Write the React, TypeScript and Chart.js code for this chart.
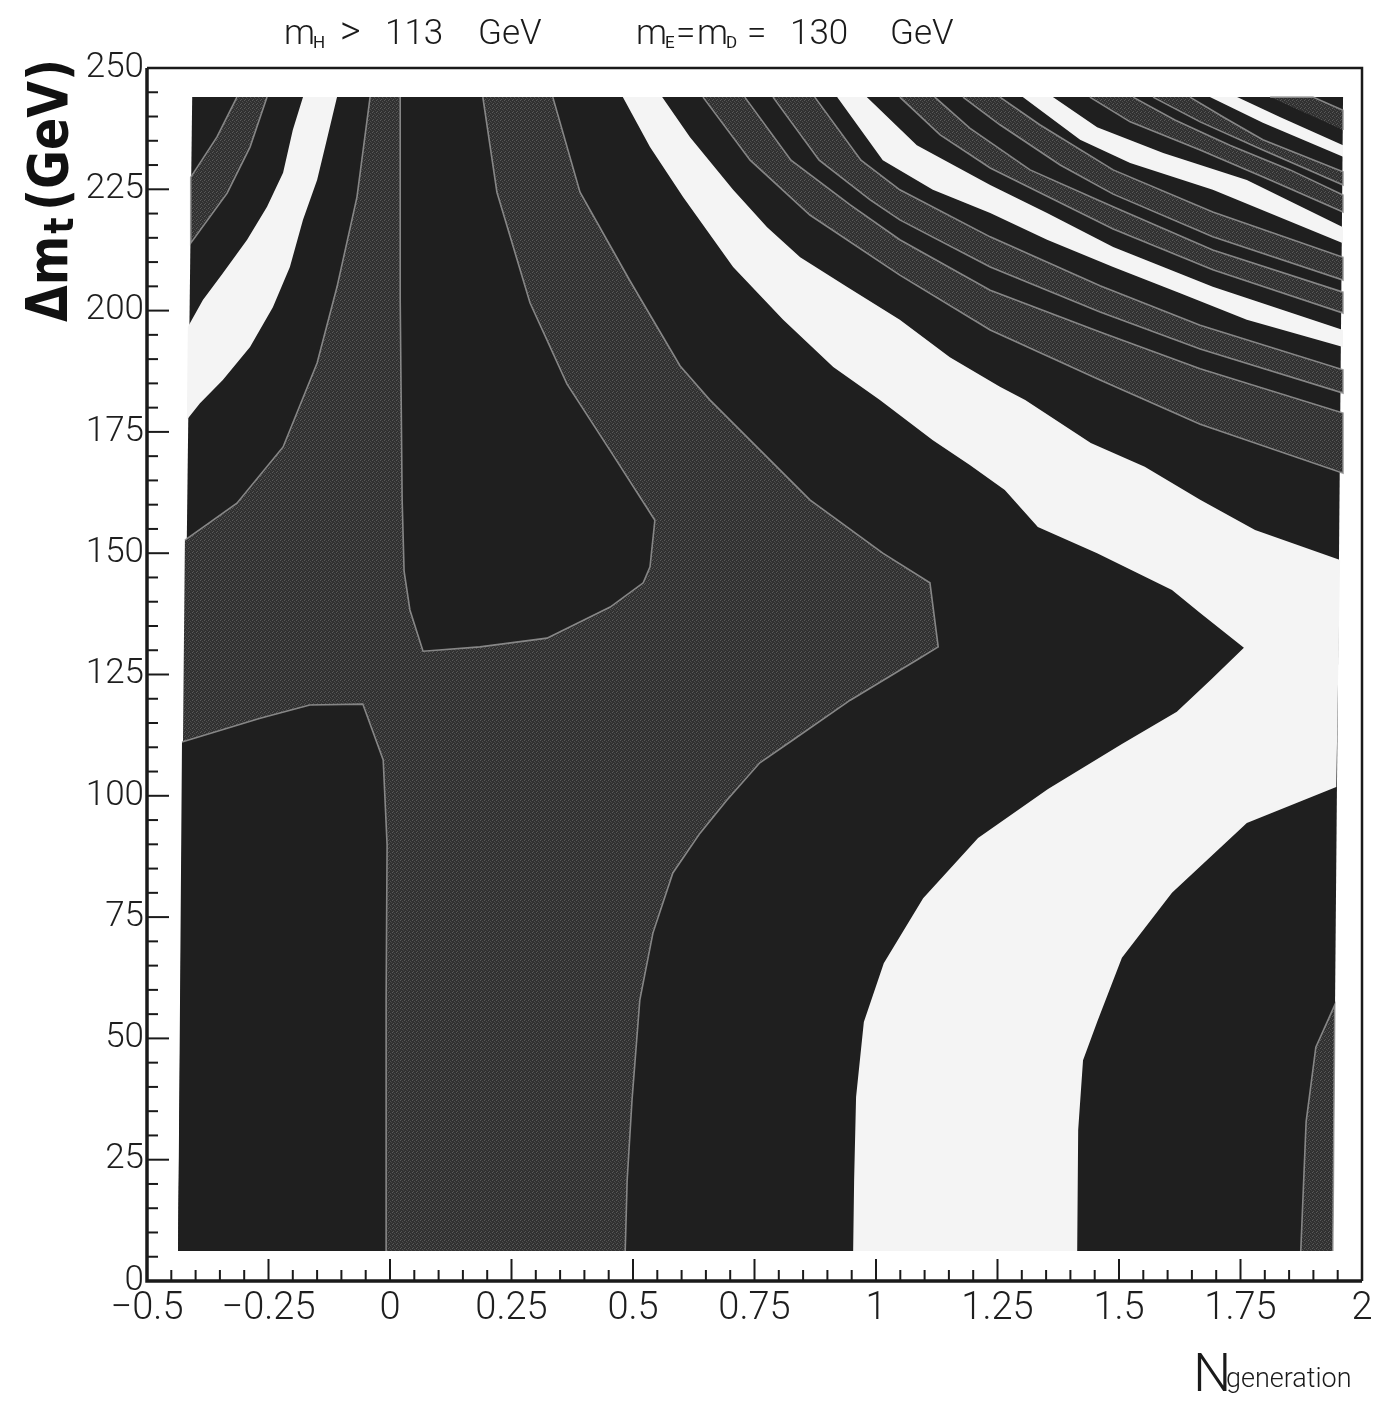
import React, { useEffect, useRef } from 'react';
import { Chart, registerables } from 'chart.js';

Chart.register(...registerables);

type Pt = [number, number];

// ---- axis ticks ----
const xTickValues = [-0.5, -0.25, 0, 0.25, 0.5, 0.75, 1, 1.25, 1.5, 1.75, 2];
const xTickLabels = ['\u22120.5', '\u22120.25', '0', '0.25', '0.5', '0.75', '1', '1.25', '1.5', '1.75', '2'];
const yTickValues = [0, 25, 50, 75, 100, 125, 150, 175, 200, 225, 250];
const yTickLabels = ['0', '25', '50', '75', '100', '125', '150', '175', '200', '225', '250'];

// ---- contour regions (x = N_generation, y = Δm_t in GeV) ----
const fillArea: Pt[] = [[-0.407, 244.0], [1.961, 244.0], [1.940, 6.2], [-0.436, 6.2]];

const grayTopLeft: Pt[] = [
  [-0.315, 244.0], [-0.356, 235.8], [-0.410, 227.5], [-0.410, 213.9],
  [-0.335, 224.2], [-0.288, 233.7], [-0.253, 244.0],
];

const whiteTopLeft: Pt[] = [
  [-0.179, 244.0], [-0.200, 237.2], [-0.220, 228.4], [-0.253, 221.4], [-0.294, 214.6],
  [-0.344, 207.7], [-0.385, 202.2], [-0.416, 196.6],
  [-0.418, 177.5], [-0.391, 180.9], [-0.344, 185.7], [-0.288, 192.5], [-0.241, 200.7],
  [-0.206, 209.0], [-0.179, 218.7], [-0.150, 226.9], [-0.130, 235.2], [-0.109, 244.0],
];

const grayRegionRight: Pt[] = [
  [0.335, 244.0], [0.391, 224.4], [0.494, 206.1], [0.597, 188.6], [0.658, 181.6],
  [0.761, 171.3], [0.864, 161.0], [1.014, 150.0], [1.111, 143.9], [1.128, 130.7],
  [1.084, 128.0], [0.947, 119.7], [0.829, 111.5], [0.761, 106.8], [0.693, 99.1],
  [0.638, 92.3], [0.582, 84.1], [0.541, 71.7], [0.514, 57.9], [0.498, 37.3],
  [0.488, 20.8], [0.484, 6.2],
];
const grayRegionLeft: Pt[] = [
  [-0.422, 152.7], [-0.315, 160.3], [-0.220, 171.9], [-0.150, 189.2],
  [-0.109, 204.9], [-0.068, 223.4], [-0.041, 244.0],
];
const grayRegionCorner: Pt[] = [[-0.436, 6.2]];

const darkIslandTop: Pt[] = [
  [0.191, 244.0], [0.220, 224.4], [0.288, 201.6], [0.364, 184.9], [0.459, 170.2],
  [0.545, 156.8], [0.535, 147.2], [0.521, 143.9], [0.453, 138.9], [0.323, 132.5],
  [0.185, 130.7], [0.068, 129.8], [0.041, 138.3], [0.029, 146.3], [0.025, 161.0],
  [0.021, 202.2], [0.021, 244.0],
];

const darkIslandLow: Pt[] = [
  [-0.428, 111.1], [-0.267, 116.0], [-0.165, 118.7], [-0.056, 118.9],
  [-0.014, 107.4], [-0.006, 89.9], [-0.008, 57.9], [-0.008, 6.2], [-0.436, 6.2],
];

const whiteBandA: Pt[] = [
  [0.479, 244.0], [0.535, 233.7], [0.603, 223.4], [0.706, 209.0], [0.809, 198.1],
  [0.912, 188.4], [1.008, 181.6], [1.117, 173.3], [1.193, 168.2], [1.265, 163.0],
  [1.333, 155.4], [1.455, 150.0], [1.609, 142.4], [1.667, 137.7], [1.757, 130.5],
  [1.689, 123.9], [1.619, 117.3], [1.506, 110.7], [1.354, 101.4], [1.210, 91.3],
  [1.097, 78.9], [1.016, 65.5], [0.975, 53.4], [0.959, 37.9], [0.955, 20.8], [0.953, 6.2],
  [1.414, 6.2], [1.416, 31.1], [1.426, 45.5], [1.455, 53.4], [1.506, 66.6],
  [1.609, 80.0], [1.763, 94.4], [1.947, 101.8], [1.955, 148.6],
  [1.780, 154.8], [1.667, 161.0], [1.553, 167.8], [1.442, 172.7], [1.307, 181.6],
  [1.255, 184.3], [1.152, 190.4], [1.049, 198.1], [0.940, 204.9], [0.844, 211.0],
  [0.776, 217.2], [0.706, 224.9], [0.617, 235.8], [0.560, 244.0],
];

const grayLowRight: Pt[] = [
  [1.874, 6.2], [1.885, 32.8], [1.905, 48.2], [1.944, 56.9], [1.940, 6.2],
];

const whiteBandB: Pt[] = [
  [0.920, 244.0], [1.014, 231.0], [1.117, 224.9], [1.235, 220.1], [1.352, 214.6],
  [1.488, 209.0], [1.626, 203.6], [1.763, 198.1], [1.961, 192.5],
  [1.961, 196.0], [1.693, 204.9], [1.488, 213.1], [1.352, 220.1], [1.235, 225.9],
  [1.084, 234.1], [0.981, 244.0],
];
const whiteBandC: Pt[] = [
  [1.302, 244.0], [1.420, 235.2], [1.523, 230.4], [1.693, 224.9], [1.961, 213.9],
  [1.961, 217.2], [1.763, 226.9], [1.591, 232.5], [1.455, 237.8], [1.364, 244.0],
];
const whiteBandD: Pt[] = [
  [1.687, 244.0], [1.796, 238.7], [1.961, 231.7],
  [1.961, 234.1], [1.831, 239.9], [1.743, 244.0],
];

const grayAB1: Pt[] = [
  [0.644, 244.0], [0.741, 231.0], [0.864, 219.7], [1.049, 207.3], [1.235, 196.0],
  [1.461, 185.7], [1.667, 176.6], [1.961, 166.5],
  [1.961, 178.9], [1.667, 188.0], [1.461, 195.6], [1.235, 204.2], [1.049, 214.6],
  [0.947, 221.8], [0.825, 231.0], [0.730, 244.0],
];
const grayAB2: Pt[] = [
  [0.788, 244.0], [0.883, 231.0], [0.988, 222.8], [1.049, 218.7], [1.235, 209.0],
  [1.461, 199.7], [1.667, 192.1], [1.961, 183.0],
  [1.961, 187.8], [1.667, 197.0], [1.461, 205.1], [1.235, 215.2], [1.049, 224.9],
  [0.969, 231.0], [0.874, 244.0],
];
const grayBC1: Pt[] = [
  [1.049, 244.0], [1.132, 236.2], [1.235, 229.4], [1.488, 216.8], [1.693, 208.4], [1.961, 199.5],
  [1.961, 203.8], [1.693, 212.5], [1.488, 221.4], [1.317, 229.0], [1.193, 237.6], [1.121, 244.0],
];
const grayBC2: Pt[] = [
  [1.179, 244.0], [1.255, 238.3], [1.379, 230.0], [1.488, 224.0], [1.693, 215.2], [1.961, 206.3],
  [1.961, 211.0], [1.693, 220.3], [1.488, 229.0], [1.337, 238.3], [1.255, 244.0],
];
const grayCD1: Pt[] = [
  [1.440, 244.0], [1.523, 238.9], [1.667, 233.1], [1.811, 226.9], [1.961, 220.3],
  [1.961, 223.8], [1.852, 229.0], [1.728, 234.1], [1.615, 239.3], [1.529, 244.0],
];
const grayCD2: Pt[] = [
  [1.570, 244.0], [1.667, 238.9], [1.796, 233.1], [1.961, 225.9],
  [1.961, 228.6], [1.796, 235.2], [1.718, 239.7], [1.646, 244.0],
];
const grayD: Pt[] = [[1.811, 244.0], [1.899, 244.0], [1.961, 241.3], [1.961, 237.2]];

// ---- styles ----
const DARK = '#1f1f1f';
const WHITE = '#f4f4f4';
const EDGE = 'rgba(150,150,150,0.85)';
const FONT = 'Roboto, "Liberation Sans", "DejaVu Sans", sans-serif';

function makeGrayPattern(): CanvasPattern | string {
  const c = document.createElement('canvas');
  c.width = 4;
  c.height = 4;
  const g = c.getContext('2d');
  if (!g) return '#383838';
  g.fillStyle = '#313131';
  g.fillRect(0, 0, 4, 4);
  g.fillStyle = '#5a5a5a';
  g.fillRect(0, 0, 1, 1);
  g.fillStyle = '#4e4e4e';
  g.fillRect(2, 1, 1, 1);
  g.fillStyle = '#545454';
  g.fillRect(1, 3, 1, 1);
  g.fillStyle = '#464646';
  g.fillRect(3, 2, 1, 1);
  const p = g.createPattern(c, 'repeat');
  return p || '#383838';
}

const decorPlugin = {
  id: 'decor',
  afterDraw(chart: any) {
    const ctx: CanvasRenderingContext2D = chart.ctx;
    const { left, right, top, bottom } = chart.chartArea;
    const xs = chart.scales.x;
    const ys = chart.scales.y;
    ctx.save();
    ctx.strokeStyle = '#1a1a1a';
    // frame
    ctx.lineWidth = 2.5;
    ctx.beginPath();
    ctx.moveTo(left, top);
    ctx.lineTo(right, top);
    ctx.lineTo(right, bottom);
    ctx.stroke();
    ctx.lineWidth = 3.5;
    ctx.beginPath();
    ctx.moveTo(left, top);
    ctx.lineTo(left, bottom);
    ctx.lineTo(right, bottom);
    ctx.stroke();
    // ticks (inward)
    ctx.lineWidth = 2;
    for (let i = 0; i <= 50; i++) {
      const v = -0.5 + i * 0.05;
      const px = xs.getPixelForValue(v);
      const len = i % 5 === 0 ? 22 : 11;
      ctx.beginPath();
      ctx.moveTo(px, bottom);
      ctx.lineTo(px, bottom - len);
      ctx.stroke();
    }
    for (let i = 0; i <= 50; i++) {
      const v = i * 5;
      const py = ys.getPixelForValue(v);
      const len = i % 5 === 0 ? 22 : 11;
      ctx.beginPath();
      ctx.moveTo(left, py);
      ctx.lineTo(left + len, py);
      ctx.stroke();
    }

    // top title
    ctx.fillStyle = '#1a1a1a';
    ctx.textAlign = 'left';
    ctx.textBaseline = 'alphabetic';
    const pieces: { t: string; x: number; sub?: boolean; big?: boolean }[] = [
      { t: 'm', x: 284 }, { t: 'H', x: 313, sub: true }, { t: '>', x: 340, big: true },
      { t: '113', x: 385 }, { t: 'GeV', x: 478 },
      { t: 'm', x: 636 }, { t: 'E', x: 665, sub: true }, { t: '=', x: 676 },
      { t: 'm', x: 697 }, { t: 'D', x: 726, sub: true }, { t: '=', x: 747 },
      { t: '130', x: 790 }, { t: 'GeV', x: 890 },
    ];
    for (const p of pieces) {
      ctx.font = p.sub ? `400 17px ${FONT}` : p.big ? `300 40px ${FONT}` : `300 35px ${FONT}`;
      ctx.fillText(p.t, p.x, p.sub ? 48 : 44);
    }

    // x-axis title
    ctx.font = `300 54px ${FONT}`;
    ctx.fillText('N', 1193, 1391);
    ctx.font = `300 27px ${FONT}`;
    ctx.fillText('generation', 1226, 1387);

    // y-axis title (rotated)
    ctx.save();
    ctx.translate(67, 322);
    ctx.rotate(-Math.PI / 2);
    ctx.scale(0.85, 1);
    ctx.fillStyle = '#111';
    ctx.font = 'bold 56px "DejaVu Sans", sans-serif';
    let cx = 0;
    ctx.fillText('\u0394m', cx, 0);
    cx += ctx.measureText('\u0394m').width;
    ctx.font = 'bold 40px "DejaVu Sans", sans-serif';
    ctx.fillText('t', cx + 2, 6);
    cx += ctx.measureText('t').width + 10;
    ctx.font = 'bold 56px "DejaVu Sans", sans-serif';
    ctx.fillText('(GeV)', cx, 0);
    ctx.restore();

    ctx.restore();
  },
};

export default function App() {
  const ref = useRef<HTMLCanvasElement | null>(null);

  useEffect(() => {
    document.body.style.margin = '0';
    const canvas = ref.current;
    if (!canvas) return;
    const GRAY = makeGrayPattern();

    type Layer = { pts: Pt[]; color?: any; edge?: string; fill?: boolean };
    const layers: Layer[] = [
      { pts: fillArea, color: DARK },
      { pts: grayTopLeft, color: GRAY, edge: EDGE },
      { pts: whiteTopLeft, color: WHITE },
      { pts: [...grayRegionRight, ...grayRegionCorner, ...grayRegionLeft], color: GRAY },
      { pts: darkIslandTop, color: DARK, edge: EDGE },
      { pts: darkIslandLow, color: DARK },
      { pts: whiteBandA, color: WHITE },
      { pts: grayLowRight, color: GRAY, edge: EDGE },
      { pts: whiteBandB, color: WHITE },
      { pts: whiteBandC, color: WHITE },
      { pts: whiteBandD, color: WHITE },
      { pts: grayAB1, color: GRAY, edge: EDGE },
      { pts: grayAB2, color: GRAY, edge: EDGE },
      { pts: grayBC1, color: GRAY, edge: EDGE },
      { pts: grayBC2, color: GRAY, edge: EDGE },
      { pts: grayCD1, color: GRAY, edge: EDGE },
      { pts: grayCD2, color: GRAY, edge: EDGE },
      { pts: grayD, color: GRAY, edge: EDGE },
      // contour outlines of the large grey region
      { pts: grayRegionRight, edge: EDGE, fill: false },
      { pts: grayRegionLeft, edge: EDGE, fill: false },
      { pts: darkIslandLow.slice(0, 8), edge: EDGE, fill: false },
    ];

    const datasets = layers.map((l, i) => ({
      data: l.pts.map(([x, y]) => ({ x, y })),
      fill: l.fill === false ? false : 'shape',
      backgroundColor: l.color || 'transparent',
      borderColor: l.edge || 'transparent',
      borderWidth: l.edge ? 1.6 : 0,
      pointRadius: 0,
      pointHoverRadius: 0,
      tension: 0,
      order: -i,
    }));

    const chart = new Chart(canvas, {
      type: 'line',
      data: { datasets: datasets as any },
      plugins: [decorPlugin],
      options: {
        animation: false,
        responsive: false,
        devicePixelRatio: 1,
        events: [],
        layout: { padding: { top: 68, right: 27, left: 0, bottom: 0 } },
        plugins: {
          legend: { display: false },
          tooltip: { enabled: false },
          title: { display: false },
        },
        scales: {
          x: {
            type: 'linear',
            min: -0.5,
            max: 2,
            afterBuildTicks: (s: any) => {
              s.ticks = xTickValues.map((v) => ({ value: v }));
            },
            afterFit: (s: any) => {
              s.height = 130;
            },
            grid: { display: false, drawTicks: false },
            border: { display: false },
            ticks: {
              autoSkip: false,
              maxRotation: 0,
              padding: 6,
              color: '#1e1e1e',
              font: { family: FONT, size: 38, weight: '300' as any },
              callback: (_v: any, i: number) => xTickLabels[i],
            },
          },
          y: {
            type: 'linear',
            min: 0,
            max: 250,
            afterBuildTicks: (s: any) => {
              s.ticks = yTickValues.map((v) => ({ value: v }));
            },
            afterFit: (s: any) => {
              s.width = 147;
            },
            grid: { display: false, drawTicks: false },
            border: { display: false },
            ticks: {
              autoSkip: false,
              padding: 3,
              color: '#1e1e1e',
              font: { family: FONT, size: 35, weight: '300' as any },
              callback: (_v: any, i: number) => yTickLabels[i],
            },
          },
        },
      } as any,
    });
    return () => chart.destroy();
  }, []);

  return (
    <div style={{ width: 1389, height: 1411, background: '#fff' }}>
      <canvas ref={ref} width={1389} height={1411} style={{ display: 'block' }} />
    </div>
  );
}
